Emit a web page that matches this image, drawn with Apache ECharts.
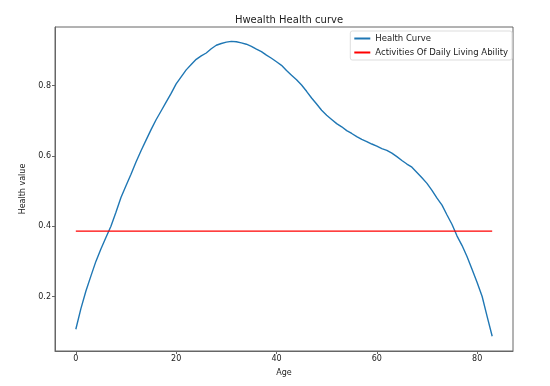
<!DOCTYPE html>
<html><head><meta charset="utf-8">
<script src="https://cdn.jsdelivr.net/npm/echarts@6/dist/echarts.min.js"></script>
<style>html,body{margin:0;padding:0;background:#fff}#c{width:550px;height:386px}</style>
</head><body><div id="c"></div>
<script>
const ages = Array.from({length: 84}, (_, i) => i);
const healthValues = [
 0.107,0.165,0.215,0.258,0.300,0.335,0.368,0.400,0.440,0.482,
 0.515,0.548,0.583,0.615,0.645,0.675,0.703,0.728,0.753,0.778,
 0.805,0.825,0.845,0.860,0.875,0.885,0.893,0.905,0.915,0.920,
 0.924,0.926,0.925,0.922,0.918,0.912,0.904,0.897,0.887,0.878,
 0.868,0.858,0.843,0.830,0.817,0.802,0.784,0.765,0.748,0.730,
 0.716,0.704,0.692,0.683,0.672,0.664,0.655,0.647,0.641,0.634,
 0.628,0.621,0.616,0.608,0.598,0.587,0.577,0.568,0.553,0.538,
 0.522,0.502,0.480,0.460,0.432,0.405,0.372,0.345,0.313,0.277,
 0.240,0.200,0.143,0.087];
const adlAges = [0, 83];
const adlValue = 0.386;
const xTicks = [0, 20, 40, 60, 80];
const yTicks = [0.2, 0.4, 0.6, 0.8];

const chart = echarts.init(document.getElementById('c'));
const font = '"DejaVu Sans", sans-serif';
chart.setOption({
  animation: false,
  title: {text: 'Hwealth Health curve', left: 284, top: 10, textAlign: 'center',
    textStyle: {fontFamily: font, fontSize: 10, fontWeight: 'normal', color: '#222'}},
  legend: {
    orient: 'vertical', right: 38, top: 31, itemWidth: 16, itemHeight: 2, itemGap: 5,
    icon: 'rect', padding: [3, 4, 3, 4], borderColor: '#ddd', borderWidth: 1, borderRadius: 2,
    textStyle: {fontFamily: font, fontSize: 8.5, color: '#222'},
    data: ['Health Curve', 'Activities Of Daily Living Ability']
  },
  grid: {left: 55, right: 37, top: 27, bottom: 35, show: true, borderColor: '#666', borderWidth: 1},
  xAxis: {
    type: 'value', min: -4.15, max: 87.15, name: 'Age', nameLocation: 'middle', nameGap: 18,
    nameTextStyle: {fontFamily: font, fontSize: 8, color: '#222'},
    axisLine: {onZero: false, lineStyle: {color: '#666'}},
    axisTick: {length: 3, lineStyle: {color: '#666'}, customValues: xTicks},
    axisLabel: {fontFamily: font, fontSize: 8, color: '#222', margin: 4, customValues: xTicks},
    splitLine: {show: false}
  },
  yAxis: {
    type: 'value', min: 0.045, max: 0.967, name: 'Health value', nameLocation: 'middle', nameGap: 26,
    nameTextStyle: {fontFamily: font, fontSize: 8, color: '#222'},
    axisLine: {show: true, onZero: false, lineStyle: {color: '#666'}},
    axisTick: {show: true, length: 3, lineStyle: {color: '#666'}, customValues: yTicks},
    axisLabel: {fontFamily: font, fontSize: 8, color: '#222', margin: 4, customValues: yTicks,
      formatter: v => v.toFixed(1)},
    splitLine: {show: false}
  },
  series: [
    {name: 'Health Curve', type: 'line', showSymbol: false, symbol: 'none',
     data: ages.map((a, i) => [a, healthValues[i]]),
     lineStyle: {color: '#1f77b4', width: 1.4}, itemStyle: {color: '#1f77b4'}},
    {name: 'Activities Of Daily Living Ability', type: 'line', showSymbol: false, symbol: 'none',
     data: adlAges.map(a => [a, adlValue]),
     lineStyle: {color: '#ff0000', width: 1.3}, itemStyle: {color: '#ff0000'}}
  ]
});
</script></body></html>
